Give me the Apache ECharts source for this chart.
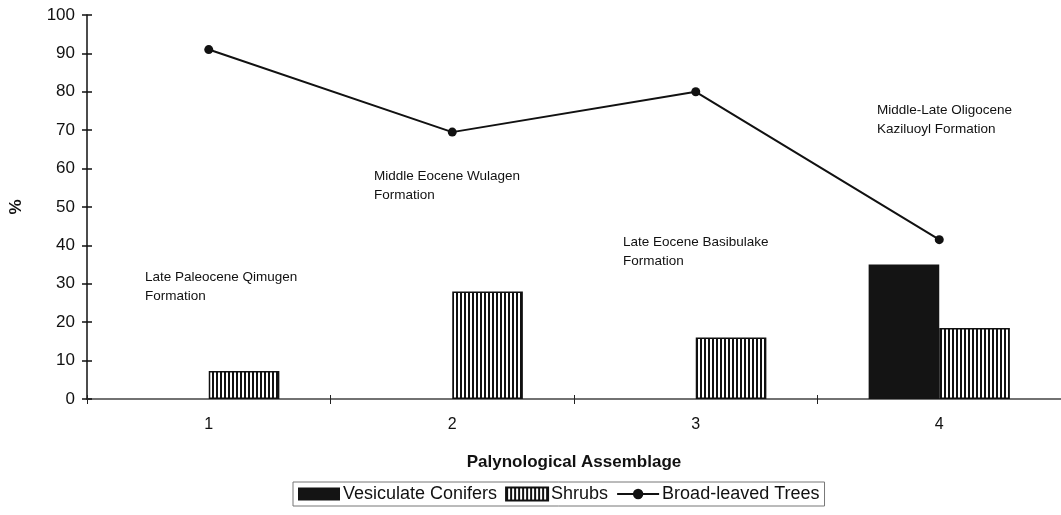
<!DOCTYPE html>
<html>
<head>
<meta charset="utf-8">
<script src="https://cdn.jsdelivr.net/npm/echarts@6/dist/echarts.min.js"></script>
<style>
html,body{margin:0;padding:0;background:#fff;}
#chart{width:1061px;height:515px;}
</style>
</head>
<body>
<div id="chart"></div>
<script>
const categories = ['1', '2', '3', '4'];
const vesiculateConifers = [0, 0, 0, 35];
const shrubs = [7.3, 28, 16, 18.5];
const broadLeavedTrees = [91, 69.5, 80, 41.5];
const yTicks = { min: 0, max: 100, interval: 10 };
const annotations = [
  'Late Paleocene Qimugen\nFormation',
  'Middle Eocene Wulagen\nFormation',
  'Late Eocene Basibulake\nFormation',
  'Middle-Late Oligocene\nKaziluoyl Formation'
];

const FONT = '"Liberation Sans", Arial, sans-serif';

// vertical hatch pattern
const pc = document.createElement('canvas');
pc.width = 4; pc.height = 4;
const pctx = pc.getContext('2d');
pctx.fillStyle = '#fff'; pctx.fillRect(0, 0, 4, 4);
pctx.fillStyle = '#111'; pctx.fillRect(0, 0, 2, 4);
const hatch = { image: pc, repeat: 'repeat' };

const annPos = [[145, 268], [374, 167], [623, 233], [877, 101]];

const chart = echarts.init(document.getElementById('chart'), null, { renderer: 'canvas' });
chart.setOption({
  backgroundColor: '#fff',
  animation: false,
  textStyle: { fontFamily: FONT, color: '#111' },
  grid: { left: 81, right: -2, top: 15, bottom: 116, containLabel: false },
  xAxis: [{
    type: 'category',
    data: categories,
    boundaryGap: true,
    name: 'Palynological Assemblage',
    nameLocation: 'middle',
    nameGap: 55,
    nameTextStyle: { fontFamily: FONT, fontSize: 17, fontWeight: 'bold', color: '#111' },
    axisLine: { lineStyle: { color: '#444', width: 1.5 } },
    axisTick: { show: true, length: 5, lineStyle: { color: '#222', width: 1 } },
    axisLabel: { fontFamily: FONT, fontSize: 16, color: '#111', margin: 18 },
    splitLine: { show: false }
  }, {
    type: 'category',
    data: categories,
    position: 'bottom',
    boundaryGap: true,
    axisLine: { show: false },
    axisTick: { show: true, inside: true, length: 4, lineStyle: { color: '#222', width: 1 } },
    axisLabel: { show: false },
    splitLine: { show: false }
  }],
  yAxis: [{
    type: 'value',
    min: yTicks.min, max: yTicks.max, interval: yTicks.interval,
    name: '%',
    nameLocation: 'middle',
    nameGap: 62,
    nameTextStyle: { fontFamily: FONT, fontSize: 17, fontWeight: 'bold', color: '#111' },
    axisLine: { show: true, lineStyle: { color: '#111', width: 1.5 } },
    axisTick: { show: true, length: 5, lineStyle: { color: '#111', width: 1.5 } },
    axisLabel: { fontFamily: FONT, fontSize: 17, color: '#111', margin: 12 },
    splitLine: { show: false }
  }, {
    type: 'value',
    position: 'left',
    min: yTicks.min, max: yTicks.max, interval: yTicks.interval,
    axisLine: { show: false },
    axisTick: { show: true, inside: true, length: 5, lineStyle: { color: '#111', width: 1.5 } },
    axisLabel: { show: false },
    splitLine: { show: false }
  }],
  legend: {
    bottom: 9,
    left: 293,
    data: [
      { name: 'Vesiculate Conifers', icon: 'rect' },
      { name: 'Shrubs', icon: 'rect' },
      { name: 'Broad-leaved Trees' }
    ],
    borderColor: '#777',
    borderWidth: 1,
    padding: [3, 5],
    itemGap: 8,
    itemWidth: 42,
    itemHeight: 13,
    textStyle: { fontFamily: FONT, fontSize: 18, color: '#111', padding: [0, 0, 0, -2] }
  },
  graphic: annotations.map((t, i) => ({
    type: 'text',
    left: annPos[i][0],
    top: annPos[i][1],
    style: { text: t, font: '13.5px ' + FONT, fill: '#111', lineHeight: 19 }
  })),
  series: [
    {
      name: 'Vesiculate Conifers',
      type: 'bar',
      data: vesiculateConifers,
      barGap: '0%',
      barCategoryGap: '42%',
      itemStyle: { color: '#141414' }
    },
    {
      name: 'Shrubs',
      type: 'bar',
      data: shrubs,
      barGap: '0%',
      barCategoryGap: '42%',
      itemStyle: { color: hatch, borderColor: '#111', borderWidth: 1.5 }
    },
    {
      name: 'Broad-leaved Trees',
      type: 'line',
      data: broadLeavedTrees,
      symbol: 'circle',
      symbolSize: 9,
      lineStyle: { color: '#111', width: 2 },
      itemStyle: { color: '#111' },
      z: 5
    }
  ]
});
</script>
</body>
</html>
